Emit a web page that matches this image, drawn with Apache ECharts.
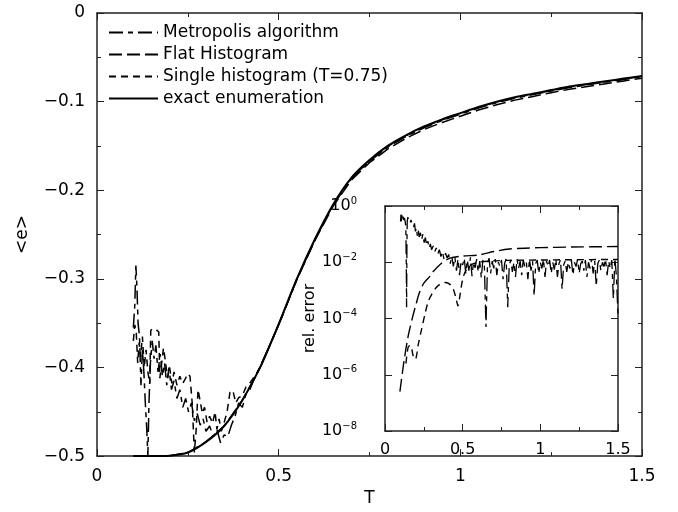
<!DOCTYPE html>
<html><head><meta charset="utf-8">
<script src="https://cdn.jsdelivr.net/npm/echarts@6/dist/echarts.min.js"></script>
<style>html,body{margin:0;padding:0;background:#fff}#c{width:678px;height:512px}</style>
</head><body><div id="c"></div>
<script>
// ---------- main panel: <e> vs T ----------
const tGrid = [0.10,0.15,0.20,0.25,0.30,0.35,0.40,0.45,0.50,0.55,0.60,0.65,0.70,0.75,0.80,0.85,0.90,0.95,1.00,1.05,1.10,1.15,1.20,1.25,1.30,1.35,1.40,1.45,1.50];
const eExact = [-0.5,-0.5,-0.4995,-0.496,-0.484,-0.466,-0.437,-0.399,-0.351,-0.300,-0.255,-0.216,-0.186,-0.166,-0.150,-0.138,-0.128,-0.120,-0.113,-0.106,-0.100,-0.095,-0.091,-0.087,-0.083,-0.080,-0.077,-0.074,-0.071];
const eFlat = [-0.5,-0.5,-0.4995,-0.496,-0.484,-0.466,-0.437,-0.399,-0.352,-0.301,-0.2565,-0.218,-0.1885,-0.1690,-0.1535,-0.1415,-0.1315,-0.1235,-0.1165,-0.1095,-0.1035,-0.0983,-0.0941,-0.0900,-0.0860,-0.0829,-0.0798,-0.0767,-0.0736];

const tMetro = [0.100,0.104,0.107,0.110,0.113,0.117,0.121,0.125,0.129,0.133,0.137,0.140,0.143,0.147,0.152,0.157,0.162,0.168,0.174,0.180,0.186,0.192,0.198,0.205,0.212,0.220,0.228,0.236,0.244,0.252,0.260,0.268,0.276,0.284,0.292,0.300,0.310,0.320,0.330,0.340,0.350,0.360,0.370,0.380,0.390,0.400,0.410,0.420,0.430,0.440,0.450,0.50,0.55,0.60,0.65,0.70,0.75,0.80,0.85,0.90,0.95,1.00,1.05,1.10,1.15,1.20,1.25,1.30,1.35,1.40,1.45,1.50];
const eMetro = [-0.355,-0.330,-0.285,-0.310,-0.350,-0.365,-0.420,-0.380,-0.405,-0.440,-0.470,-0.500,-0.440,-0.395,-0.370,-0.390,-0.375,-0.405,-0.385,-0.410,-0.395,-0.420,-0.400,-0.425,-0.415,-0.435,-0.425,-0.445,-0.435,-0.450,-0.440,-0.460,-0.452,-0.465,-0.458,-0.472,-0.466,-0.478,-0.470,-0.485,-0.476,-0.478,-0.465,-0.455,-0.440,-0.445,-0.430,-0.426,-0.415,-0.408,-0.398,-0.352,-0.3005,-0.2555,-0.2165,-0.1870,-0.1675,-0.1515,-0.1395,-0.1295,-0.1213,-0.1143,-0.1073,-0.1012,-0.0962,-0.0921,-0.0881,-0.0841,-0.0811,-0.0780,-0.0750,-0.0719];

const tSingle = [0.100,0.104,0.108,0.112,0.116,0.120,0.125,0.130,0.135,0.140,0.145,0.148,0.155,0.162,0.170,0.173,0.178,0.183,0.188,0.194,0.200,0.206,0.212,0.220,0.228,0.236,0.244,0.250,0.256,0.262,0.268,0.273,0.278,0.284,0.290,0.296,0.303,0.310,0.318,0.325,0.330,0.336,0.342,0.350,0.358,0.366,0.374,0.382,0.390,0.400,0.410,0.420,0.430,0.440,0.450,0.50,0.55,0.60,0.65,0.70,0.75,0.80,0.85,0.90,0.95,1.00,1.05,1.10,1.15,1.20,1.25,1.30,1.35,1.40,1.45,1.50];
const eSingle = [-0.370,-0.352,-0.360,-0.395,-0.372,-0.388,-0.365,-0.400,-0.380,-0.405,-0.418,-0.358,-0.356,-0.357,-0.360,-0.412,-0.395,-0.378,-0.392,-0.412,-0.400,-0.418,-0.405,-0.420,-0.410,-0.418,-0.412,-0.407,-0.410,-0.440,-0.496,-0.470,-0.425,-0.438,-0.452,-0.445,-0.462,-0.455,-0.463,-0.450,-0.470,-0.458,-0.472,-0.462,-0.450,-0.428,-0.426,-0.440,-0.434,-0.432,-0.422,-0.418,-0.412,-0.406,-0.399,-0.3515,-0.3005,-0.2555,-0.2165,-0.1865,-0.1668,-0.1505,-0.1385,-0.1285,-0.1205,-0.1135,-0.1065,-0.1005,-0.0955,-0.0915,-0.0875,-0.0835,-0.0805,-0.0775,-0.0745,-0.0715];

// ---------- inset: relative error (log scale) ----------
const tFlatErr = [0.096,0.12,0.15,0.18,0.20,0.22,0.25,0.29,0.30,0.36,0.42,0.50,0.60,0.70,0.80,0.90,1.00,1.20,1.50];
const flatErr = [2.5e-7,2.5e-6,2.5e-5,1.26e-4,3.2e-4,7.9e-4,1.8e-3,3.2e-3,4.0e-3,8.9e-3,1.4e-2,1.66e-2,1.8e-2,2.4e-2,2.95e-2,3.16e-2,3.3e-2,3.47e-2,3.63e-2];

const tSingleErr = [0.135,0.150,0.165,0.180,0.195,0.215,0.235,0.255,0.278,0.300,0.330,0.360,0.390,0.420,0.440,0.458,0.470,0.482,0.500,0.520,0.550,0.600,0.700,0.800,1.000,1.200,1.500];
const singleErr = [2.5e-6,1.0e-5,1.1e-5,5.0e-6,3.5e-6,1.26e-5,4.0e-5,1.26e-4,4.0e-4,7.1e-4,1.26e-3,1.74e-3,1.9e-3,1.6e-3,1.1e-3,5.0e-4,2.8e-4,6.3e-4,2.5e-3,5.0e-3,7.9e-3,1.0e-2,1.12e-2,1.17e-2,1.2e-2,1.23e-2,1.26e-2];

const tMetroErr = [0.100,0.103,0.106,0.109,0.112,0.116,0.120,0.125,0.130,0.134,0.137,0.139,0.141,0.143,0.147,0.152,0.157,0.162,0.167,0.172,0.178,0.184,0.190,0.196,0.202,0.208,0.214,0.220,0.228,0.236,0.244,0.252,0.260,0.268,0.276,0.284,0.292,0.300,0.310,0.320,0.330,0.340,0.350,0.360,0.370,0.380,0.390,0.400,0.410,0.420,0.430,0.440,0.450,0.460,0.470,0.480,0.490,
0.50,0.51,0.52,0.53,0.54,0.55,0.56,0.57,0.58,0.59,0.60,0.61,0.62,0.63,0.64,0.65,0.66,0.67,0.68,0.69,0.70,0.71,0.72,0.73,0.74,0.75,0.76,0.77,0.78,0.79,0.80,0.81,0.82,0.83,0.84,0.85,0.86,0.87,0.88,0.89,0.90,0.91,0.92,0.93,0.94,0.95,0.96,0.97,0.98,0.99,1.00,1.01,1.02,1.03,1.04,1.05,1.06,1.07,1.08,1.09,1.10,1.11,1.12,1.13,1.14,1.15,1.16,1.17,1.18,1.19,1.20,1.21,1.22,1.23,1.24,1.25,1.26,1.27,1.28,1.29,1.30,1.31,1.32,1.33,1.34,1.35,1.36,1.37,1.38,1.39,1.40,1.41,1.42,1.43,1.44,1.45,1.46,1.47,1.48,1.49,1.50];
const metroErr = [2.8e-1,5.0e-1,2.5e-1,4.8e-1,3.5e-1,4.2e-1,3.2e-1,3.8e-1,2.8e-1,1.8e-1,1e-2,2.5e-4,3.2e-2,2.8e-1,4.0e-1,3.2e-1,3.5e-1,2.5e-1,3.2e-1,2.6e-1,2.8e-1,1.8e-1,2.4e-1,1.26e-1,1.66e-1,8.9e-2,1.4e-1,7.9e-2,1.12e-1,6.3e-2,1.0e-1,5.0e-2,7.6e-2,4.0e-2,5.6e-2,3.2e-2,4.5e-2,2.8e-2,3.8e-2,2.4e-2,3.2e-2,2.0e-2,2.8e-2,1.6e-2,2.4e-2,1.26e-2,2.1e-2,1.4e-2,1.9e-2,8.9e-3,1.66e-2,7.1e-3,1.5e-2,5.0e-3,1.3e-2,3.5e-3,1.1e-2,
8.0e-3,1.4e-2,4.0e-3,1.2e-2,5.0e-3,1.5e-2,3.2e-3,1.0e-2,6.3e-3,1.3e-2,4.5e-3,1.1e-2,2.8e-3,1.2e-2,7.0e-3,5.0e-5,9.0e-3,1.4e-2,4.0e-3,1.1e-2,6.0e-3,1.3e-2,3.5e-3,1.0e-2,7.0e-3,1.2e-2,2.5e-3,9.0e-3,1.3e-2,2.5e-4,8.0e-3,1.2e-2,4.5e-3,1.0e-2,3.0e-3,1.3e-2,6.0e-3,1.1e-2,3.5e-3,1.2e-2,7.0e-3,1.0e-2,2.5e-3,1.3e-2,5.0e-3,1.1e-2,6.3e-4,9.0e-3,1.2e-2,4.0e-3,1.0e-2,6.0e-3,1.3e-2,3.0e-3,1.1e-2,7.0e-3,1.2e-2,4.0e-3,1.0e-2,5.5e-3,1.3e-2,3.0e-3,9.0e-3,1.2e-2,1.1e-3,8.0e-3,1.1e-2,4.5e-3,1.0e-2,6.0e-3,1.2e-2,3.5e-3,1.0e-2,7.0e-3,1.3e-2,4.0e-3,9.0e-3,1.1e-2,5.0e-3,1.2e-2,3.0e-3,1.0e-2,6.0e-3,1.3e-2,4.0e-3,1.1e-2,1.4e-3,9.0e-3,1.2e-2,5.0e-3,1.0e-2,7.0e-3,1.3e-2,3.5e-3,1.1e-2,6.0e-3,1.2e-2,5.0e-4,1.4e-2,3.0e-3,1.3e-4];

const mainXTicks = [0, 0.5, 1, 1.5];
const mainYTicks = [-0.5, -0.4, -0.3, -0.2, -0.1, 0];
const insetYExp = [-8, -6, -4, -2, 0];

const NAMES = ['Metropolis algorithm', 'Flat Histogram', 'Single histogram (T=0.75)', 'exact enumeration'];
const FONT = 'DejaVu Sans';
const DASH_METRO = [14, 5, 5, 5];
const DASH_FLAT = [13, 5];
const DASH_SINGLE = [7, 5];
const pairs = (xs, ys) => xs.map((x, i) => [x, ys[i]]);

const AX = '#222';
function axis(o) {
  return Object.assign({
    axisLine: {show: true, onZero: false, lineStyle: {color: AX, width: 1.5}},
    axisTick: {show: true, inside: true, length: 7, lineStyle: {color: AX, width: 1}},
    minorTick: {show: true, splitNumber: 2, length: 4, lineStyle: {color: AX, width: 1}},
    splitLine: {show: false}, minorSplitLine: {show: false},
    axisLabel: {show: true, color: '#000', fontFamily: FONT, fontSize: 17}
  }, o);
}

const chart = echarts.init(document.getElementById('c'), null, {renderer: 'canvas'});
const lbl = (show, extra) => Object.assign({show: show, color: '#000', fontFamily: FONT, fontSize: 17}, extra || {});
const BLACK = {color: '#000'};

const option = {
  animation: false,
  backgroundColor: '#fff',
  color: ['#000'],
  grid: [
    {left: 97, top: 13, width: 545, height: 451, show: false},
    {left: 385, top: 206, width: 233, height: 225, show: true, backgroundColor: '#fff', borderWidth: 0, z: 5}
  ],
  legend: {
    data: NAMES, orient: 'vertical', left: 103, top: 19,
    itemWidth: 49, itemHeight: 14, itemGap: 5,
    itemStyle: {opacity: 0, borderWidth: 0},
    textStyle: {fontFamily: FONT, fontSize: 17, color: '#000', lineHeight: 17},
    selectedMode: false
  },
  xAxis: [
    axis({gridIndex: 0, type: 'value', min: mainXTicks[0], max: mainXTicks[3], interval: 0.5, position: 'bottom',
      axisLabel: lbl(true, {margin: 12}),
      name: 'T', nameLocation: 'middle', nameGap: 29,
      nameTextStyle: {color: '#000', fontFamily: FONT, fontSize: 17}}),
    axis({gridIndex: 0, type: 'value', min: 0, max: 1.5, interval: 0.5, position: 'top', axisLabel: lbl(false)}),
    axis({gridIndex: 1, type: 'value', min: 0, max: 1.5, interval: 0.5, position: 'bottom', z: 6,
      axisLabel: lbl(true, {fontSize: 16, margin: 11})}),
    axis({gridIndex: 1, type: 'value', min: 0, max: 1.5, interval: 0.5, position: 'top', z: 6, axisLabel: lbl(false)})
  ],
  yAxis: [
    axis({gridIndex: 0, type: 'value', min: mainYTicks[0], max: mainYTicks[5], interval: 0.1, position: 'left',
      axisLabel: lbl(true, {margin: 12, formatter: v => (Math.abs(v) < 1e-9 ? '0' : '\u2212' + Math.abs(v).toFixed(1))}),
      name: '<e>', nameLocation: 'middle', nameGap: 66, nameRotate: 90,
      nameTextStyle: {color: '#000', fontFamily: FONT, fontSize: 17}}),
    axis({gridIndex: 0, type: 'value', min: -0.5, max: 0, interval: 0.1, position: 'right', axisLabel: lbl(false)}),
    axis({gridIndex: 1, type: 'log', logBase: 10, min: Math.pow(10, insetYExp[0]), max: Math.pow(10, insetYExp[4]), interval: 2,
      position: 'left', z: 6, minorTick: {show: false},
      axisLabel: {show: true, margin: 28, color: '#000', fontFamily: FONT,
        formatter: v => { const e = Math.round(Math.log10(v)); return '{b|10}{s|' + (e === 0 ? '0' : '\u2212' + (-e)) + '}'; },
        rich: {b: {fontSize: 16, fontFamily: FONT, color: '#000', lineHeight: 20},
               s: {fontSize: 10, fontFamily: FONT, color: '#000', verticalAlign: 'top', lineHeight: 10}}},
      name: 'rel. error', nameLocation: 'middle', nameGap: 60, nameRotate: 90,
      nameTextStyle: {color: '#000', fontFamily: FONT, fontSize: 16}}),
    axis({gridIndex: 1, type: 'log', logBase: 10, min: 1e-8, max: 1, interval: 2, position: 'right', z: 6,
      minorTick: {show: false}, axisLabel: {show: false}})
  ],
  series: [
    {name: NAMES[0], type: 'line', xAxisIndex: 0, yAxisIndex: 0, data: pairs(tMetro, eMetro), symbol: 'none', z: 2,
      itemStyle: BLACK, lineStyle: {color: '#000', width: 1.5, type: DASH_METRO}},
    {name: NAMES[1], type: 'line', xAxisIndex: 0, yAxisIndex: 0, data: pairs(tGrid, eFlat), symbol: 'none', z: 2,
      itemStyle: BLACK, lineStyle: {color: '#000', width: 1.5, type: DASH_FLAT}},
    {name: NAMES[2], type: 'line', xAxisIndex: 0, yAxisIndex: 0, data: pairs(tSingle, eSingle), symbol: 'none', z: 2,
      itemStyle: BLACK, lineStyle: {color: '#000', width: 1.5, type: DASH_SINGLE}},
    {name: NAMES[3], type: 'line', xAxisIndex: 0, yAxisIndex: 0, data: pairs(tGrid, eExact), symbol: 'none', z: 3,
      smooth: 0.3, itemStyle: BLACK, lineStyle: {color: '#000', width: 2, type: 'solid'}},
    // inset
    {name: NAMES[0], type: 'line', xAxisIndex: 2, yAxisIndex: 2, data: pairs(tMetroErr, metroErr), symbol: 'none', z: 7,
      itemStyle: BLACK, lineStyle: {color: '#000', width: 1.3, type: DASH_METRO}},
    {name: NAMES[1], type: 'line', xAxisIndex: 2, yAxisIndex: 2, data: pairs(tFlatErr, flatErr), symbol: 'none', z: 7,
      smooth: 0.3, itemStyle: BLACK, lineStyle: {color: '#000', width: 1.4, type: DASH_FLAT}},
    {name: NAMES[2], type: 'line', xAxisIndex: 2, yAxisIndex: 2, data: pairs(tSingleErr, singleErr), symbol: 'none', z: 7,
      smooth: 0.3, itemStyle: BLACK, lineStyle: {color: '#000', width: 1.4, type: DASH_SINGLE}}
  ]
};
chart.setOption(option);
</script>
</body></html>
